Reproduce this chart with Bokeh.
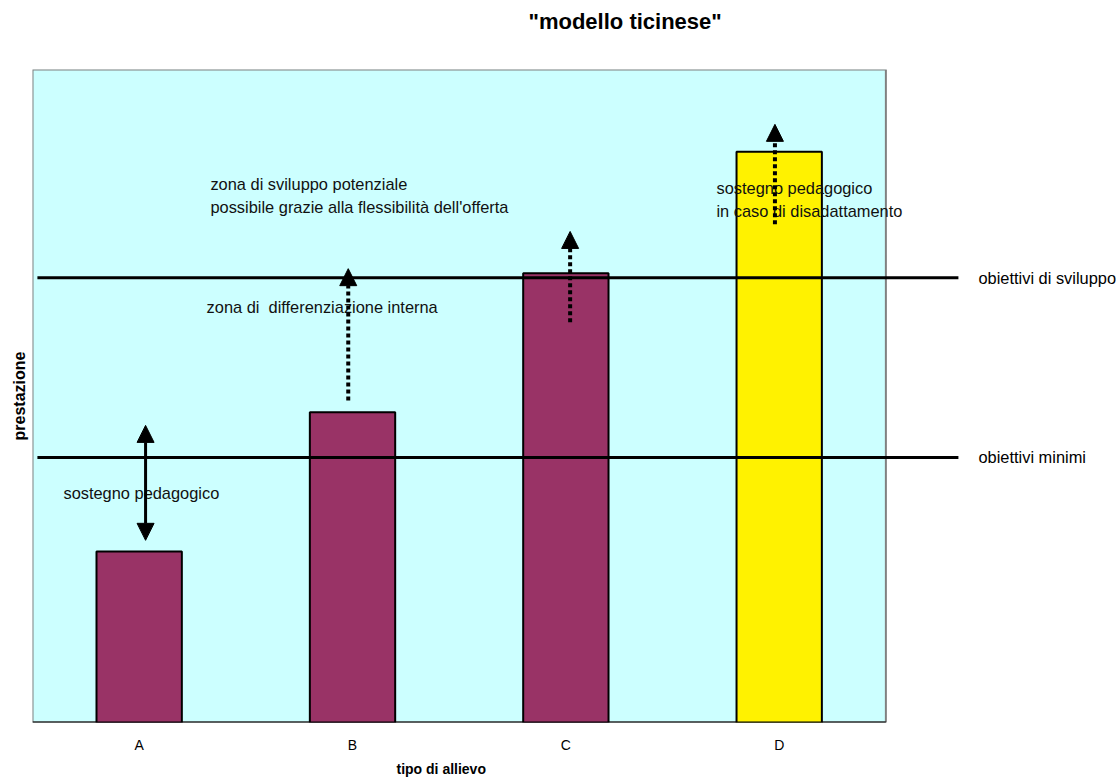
from bokeh.plotting import figure
from bokeh.models import Range1d, Title, Arrow, NormalHead, FixedTicker
from bokeh.embed import file_html
from bokeh.resources import INLINE
from bokeh.core.properties import value

FONT = "Liberation Sans"

# ---- data ----
categories = ["A", "B", "C", "D"]
performance = [26.2, 47.5, 68.8, 87.4]
bar_colors = ["#993366", "#993366", "#993366", "#FFF200"]
y_max = 100.0

goal_names = ["obiettivi minimi", "obiettivi di sviluppo"]
goal_levels = [40.6, 68.1]

# arrows (annotations)
arrow_x = [0.53, 1.48, 2.52, 3.48]
arrow_from = [27.9, 49.3, 61.3, 76.3]
arrow_to = [45.5, 69.5, 75.2, 91.6]

# annotation texts
note_texts = [
    "zona di sviluppo potenziale",
    "possibile grazie alla flessibilità dell'offerta",
    "zona di\u00a0 differenziazione interna",
    "sostegno pedagogico",
    "sostegno pedagogico",
    "in caso di disadattamento",
]
note_x = [0.834, 0.834, 0.816, 0.145, 3.206, 3.206]
note_y = [82.4, 79.0, 63.6, 35.2, 81.9, 78.4]

xs = [i + 0.5 for i in range(len(categories))]
n = len(categories)

p = figure(width=1116, height=780, output_backend="svg", toolbar_location=None,
           x_range=Range1d(0, 5.081), y_range=Range1d(0, y_max),
           min_border_left=32, min_border_right=0, min_border_top=69, min_border_bottom=58)
p.title = None
p.outline_line_color = None
p.background_fill_color = "white"
p.border_fill_color = "white"
p.xgrid.visible = False
p.ygrid.visible = False
p.yaxis.visible = False

# plot area
p.quad(left=0, right=n, bottom=0, top=y_max, fill_color="#CCFFFF",
       line_color="#808080", line_width=2)
p.segment(x0=0, y0=0, x1=n, y1=0, line_color="black", line_width=2)

# bars
p.vbar(x=xs, top=performance, width=0.4, fill_color=bar_colors,
       line_color="black", line_width=2)

# goal lines
p.segment(x0=[0.023] * 2, x1=[4.34] * 2, y0=goal_levels, y1=goal_levels,
          line_color="black", line_width=3)
p.text(x=[4.434] * 2, y=goal_levels, text=goal_names, text_font=value(FONT),
       text_font_size="16.4px", text_baseline="middle", text_color="black")

# notes
p.text(x=note_x, y=note_y, text=note_texts, text_font=value(FONT),
       text_font_size="16.4px", text_baseline="middle", text_color="#111111")

# arrows
for i in range(len(arrow_x)):
    head = NormalHead(size=17, fill_color="black", line_color="black", line_width=1)
    if i == 0:
        start = NormalHead(size=17, fill_color="black", line_color="black", line_width=1)
        p.add_layout(Arrow(start=start, end=head, x_start=arrow_x[i], y_start=arrow_from[i],
                           x_end=arrow_x[i], y_end=arrow_to[i],
                           line_color="black", line_width=3))
    else:
        p.add_layout(Arrow(end=head, x_start=arrow_x[i], y_start=arrow_from[i],
                           x_end=arrow_x[i], y_end=arrow_to[i],
                           line_color="black", line_width=4, line_dash="4 3",
                           line_cap="butt"))

# x axis
ax = p.xaxis[0]
ax.ticker = FixedTicker(ticks=xs)
ax.major_label_overrides = {x: c for x, c in zip(xs, categories)}
ax.axis_line_color = None
ax.major_tick_line_color = None
ax.minor_tick_line_color = None
ax.major_tick_out = 0
ax.major_tick_in = 0
ax.major_label_standoff = 14
ax.major_label_text_font = FONT
ax.major_label_text_font_size = "14px"
ax.major_label_text_color = "black"

p.add_layout(Title(text="tipo di allievo", align="left", offset=364, text_font=FONT,
                   text_font_size="14px", text_font_style="bold", text_color="black",
                   standoff=7), "below")
p.add_layout(Title(text="prestazione", align="center", text_font=FONT,
                   text_font_size="16px", text_font_style="bold", text_color="black",
                   standoff=10), "left")
# spacer between frame and title
p.add_layout(Title(text=" ", text_font_size="10px", standoff=18), "above")
p.add_layout(Title(text='"modello ticinese"', align="left", offset=496, text_font=FONT,
                   text_font_size="22px", text_font_style="bold", text_color="black",
                   standoff=10), "above")

open("out.html", "w").write(file_html(p, INLINE))
